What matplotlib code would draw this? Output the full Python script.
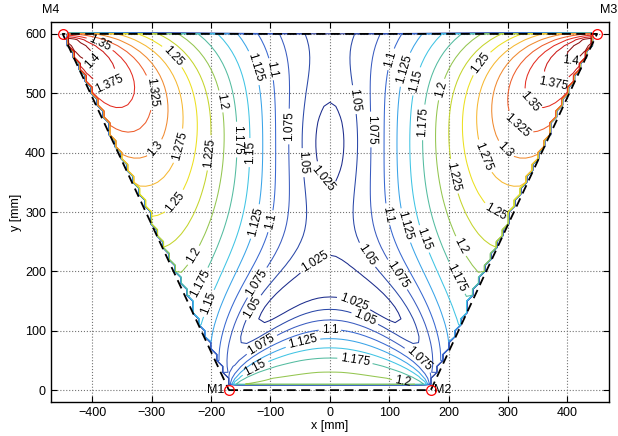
import numpy as np
import matplotlib.pyplot as plt

plt.rcParams['font.family'] = ['Liberation Sans', 'DejaVu Sans']

# motor / anchor positions [mm]
names = ['M1', 'M2', 'M3', 'M4']
mx = np.array([-170, 170, 450, -450])
my = np.array([0, 0, 600, 600])

# contour levels shown in the figure and their line colours
levels = [1.025, 1.05, 1.075, 1.1, 1.125, 1.15, 1.175, 1.2, 1.225,
          1.25, 1.275, 1.3, 1.325, 1.35, 1.375, 1.4]
level_colors = ['#1c2c8c', '#2a48a8', '#3a5cc0', '#3868d0', '#3aa4e8', '#40c4e4',
                '#54bca0', '#94c650', '#c4d42c', '#ece020', '#f6b832', '#f08a30',
                '#ee5e2c', '#e42e22', '#cc1a18', '#8c1010']

xticks = [-400, -300, -200, -100, 0, 100, 200, 300, 400]
yticks = [0, 100, 200, 300, 400, 500, 600]

# where the contour labels sit
label_pos = [
    (-388, 582), (-393, 552), (-371, 515), (-303, 501), (-265, 562), (-298, 411),
    (-253, 411), (-206, 400), (-185, 486), (-157, 422), (-130, 400), (-126, 543),
    (-101, 540), (-67, 444), (-47, 383), (-258, 315), (-231, 228), (-222, 181),
    (-206, 147), (-126, 284), (-98, 284), (-130, 186), (-132, 141), (-115, 77),
    (-126, 38), (-46, 82), (-26, 216), (39, 144), (59, 121), (0, 101), (42, 48),
    (124, 20), (149, 51), (59, 225), (113, 194), (98, 296), (123, 276), (157, 254),
    (216, 240), (214, 189), (280, 300), (-5, 360), (39, 489), (70, 439),
    (104, 557), (126, 540), (146, 520), (157, 451), (189, 506), (208, 360),
    (253, 552), (258, 393), (292, 402), (315, 444), (341, 489), (376, 515),
    (405, 552),
]

# evaluation grid
step = 10
gx = np.arange(-470, 471, step)
gy = np.arange(-20, 621, step)
X, Y = np.meshgrid(gx, gy)

# anisotropy of the sum of the cable direction dyads
S = np.zeros(X.shape, dtype=complex)
with np.errstate(invalid='ignore', divide='ignore'):
    for px, py in zip(mx, my):
        dx = px - X
        dy = py - Y
        r2 = (dx**2 + dy**2).astype(float)
        S += ((dx**2 - dy**2) + 2j * dx * dy) / r2
R = np.abs(S)
# ratio as a function of the anisotropy (matched to the figure)
F = 1 + 0.1287 * R + 0.0091 * R**2

# outside the workspace -> 0
half = 170 + 280 * Y / 600.0
inside = (Y > 0) & (Y <= 600) & (np.abs(X) < half)
F = np.where(inside, F, 0.0)

fig = plt.figure(figsize=(6.18, 4.36), dpi=100)
ax = fig.add_axes([0.082, 0.078, 0.9035, 0.8715])

cs = ax.contour(X, Y, F, levels=levels, colors=level_colors, linewidths=0.75)
ax.clabel(cs, fmt='%g', fontsize=8.5, inline=True, inline_spacing=3,
          colors='black', manual=label_pos)

# workspace border
bx = list(mx) + [mx[0]]
by = list(my) + [my[0]]
ax.plot(bx, by, color='black', linestyle=(0, (5, 3)), linewidth=1.3)
ax.plot(mx, my, 'o', mfc='none', mec='red', ms=7, mew=0.9, clip_on=False, zorder=5)

ax.text(mx[0] - 8, my[0], names[0], ha='right', va='center', fontsize=9)
ax.text(mx[1] + 6, my[1], names[1], ha='left', va='center', fontsize=9)
ax.text(mx[2] + 5, my[2] + 30, names[2], ha='left', va='bottom', fontsize=9, clip_on=False)
ax.text(mx[3] - 5, my[3] + 30, names[3], ha='right', va='bottom', fontsize=9, clip_on=False)

ax.set_xlim(-470, 470)
ax.set_ylim(-20, 620)
ax.set_aspect('equal', adjustable='box')
ax.set_xticks(xticks)
ax.set_yticks(yticks)
ax.tick_params(direction='in', top=True, right=True, labelsize=9, length=4)
ax.grid(True, linestyle=':', color='0.45', linewidth=0.8)
for s in ax.spines.values():
    s.set_linewidth(1.0)
ax.set_xlabel('x [mm]', fontsize=9, labelpad=1)
ax.set_ylabel('y [mm]', fontsize=9, labelpad=2)

fig.savefig('out.png', dpi=100)
